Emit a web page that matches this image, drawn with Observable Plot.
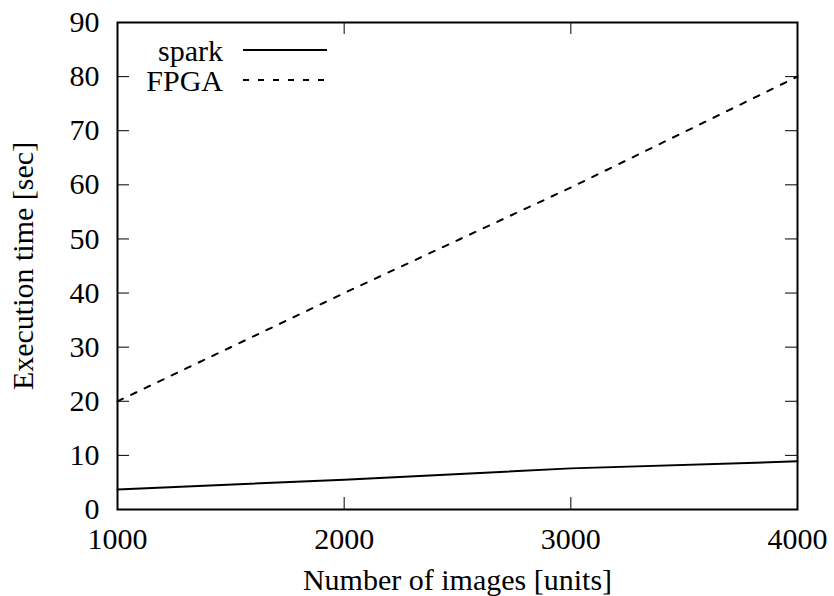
<!DOCTYPE html>
<html><head><meta charset="utf-8">
<script src="https://cdn.jsdelivr.net/npm/d3@7"></script>
<script src="https://cdn.jsdelivr.net/npm/@observablehq/plot@0.6"></script>
<style>body{margin:0;background:#fff} #chart{position:relative;width:834px;height:596px}
#chart svg, #chart svg text{font-family:"Liberation Serif","Times New Roman",Times,"DejaVu Serif",serif !important}</style>
</head><body><div id="chart"></div>
<script>
const images = [1000, 2000, 3000, 4000];
const sparkTimes = [3.7, 5.5, 7.6, 8.9];
const fpgaTimes = [20, 40, 59.5, 80];
const seriesNames = ["spark", "FPGA"];
const xTicks = [1000, 2000, 3000, 4000];
const yTicks = [0, 10, 20, 30, 40, 50, 60, 70, 80, 90];
const xLabel = "Number of images [units]";
const yLabel = "Execution time [sec]";

const rows = [];
images.forEach((n, i) => {
  rows.push({series: seriesNames[0], x: n, y: sparkTimes[i]});
  rows.push({series: seriesNames[1], x: n, y: fpgaTimes[i]});
});

const W = 834, H = 596, mL = 117, mR = 37, mT = 22, mB = 87;
const innerW = W - mL - mR, innerH = H - mT - mB;
const tickLen = 12;
const dashes = {spark: null, FPGA: "6,9"};
const FONT = '"Liberation Serif","Times New Roman",Times,"DejaVu Serif",serif';

const chart = Plot.plot({
  width: W, height: H,
  marginLeft: mL, marginRight: mR, marginTop: mT, marginBottom: mB,
  style: {fontFamily: FONT, fontSize: "30px", color: "#000", background: "#fff", overflow: "visible"},
  x: {domain: [1000, 4000]},
  y: {domain: [0, 90]},
  marks: [
    Plot.axisX(xTicks, {tickSize: 0, tickPadding: 18, label: null, tickFormat: d => String(d)}),
    Plot.axisY(yTicks, {tickSize: 0, tickPadding: 18, label: null}),
    Plot.tickX(xTicks, {x: d => d, insetTop: innerH - tickLen, stroke: "#000", strokeWidth: 1}),
    Plot.tickX(xTicks, {x: d => d, insetBottom: innerH - tickLen, stroke: "#000", strokeWidth: 1}),
    Plot.tickY(yTicks, {y: d => d, insetRight: innerW - tickLen, stroke: "#000", strokeWidth: 1}),
    Plot.tickY(yTicks, {y: d => d, insetLeft: innerW - tickLen, stroke: "#000", strokeWidth: 1}),
    ...seriesNames.map(s => Plot.line(rows.filter(r => r.series === s), {
      x: "x", y: "y", stroke: "#000", strokeWidth: 2,
      strokeDasharray: dashes[s] || undefined
    })),
    Plot.frame({stroke: "#000", strokeWidth: 2}),
    Plot.text([xLabel], {frameAnchor: "bottom", dy: 71, lineAnchor: "middle", textAnchor: "middle", text: d => d, fill: "#000"}),
    Plot.text([yLabel], {frameAnchor: "left", dx: -94, rotate: -90, lineAnchor: "middle", textAnchor: "middle", text: d => d, fill: "#000"})
  ]
});
document.getElementById("chart").appendChild(chart);

// Legend (top-left inside the frame)
const svg = d3.select(chart);
const lg = svg.append("g").attr("font-size", 30);
seriesNames.forEach((s, i) => {
  const cy = mT + 28 + i * 30;
  lg.append("text").attr("x", 223).attr("y", cy + 11).attr("text-anchor", "end").attr("fill", "#000").text(s);
  lg.append("line").attr("x1", 243).attr("x2", 327).attr("y1", cy).attr("y2", cy)
    .attr("stroke", "#000").attr("stroke-width", 2).attr("stroke-dasharray", dashes[s]);
});
</script>
</body></html>
